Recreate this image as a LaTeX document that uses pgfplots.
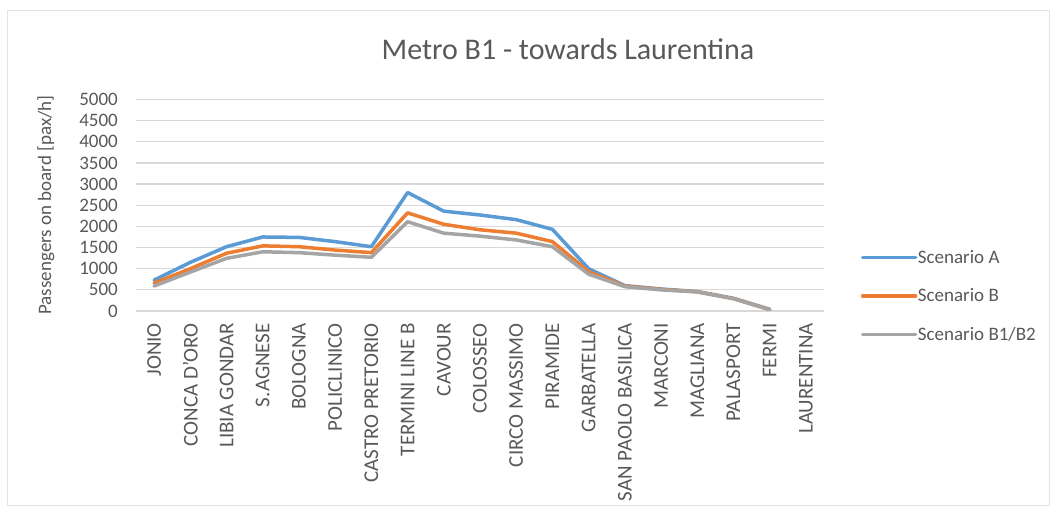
\documentclass[border=0pt]{standalone}
\usepackage{pgfplots}
\pgfplotsset{compat=1.18}
\usepackage{fontspec}
\setmainfont{Carlito}

\definecolor{txtgray}{HTML}{595959}
\definecolor{gridgray}{HTML}{D9D9D9}
\definecolor{serA}{HTML}{5B9BD5}
\definecolor{serB}{HTML}{ED7D31}
\definecolor{serC}{HTML}{A5A5A5}

\begin{document}
\begin{tikzpicture}[x=1pt,y=1pt]
\useasboundingbox (0,0) rectangle (1056,516);
\fill[white] (0,0) rectangle (1056,516);
\draw[gray!22,line width=1pt] (7,10) rectangle (1049,505);

\node[text=txtgray,font=\fontsize{30}{30}\selectfont] at (568,467) {Metro B1 - towards Laurentina};
\node[text=txtgray,rotate=90,font=\fontsize{19}{19}\selectfont] at (46,311) {Passengers on board [pax/h]};

\begin{axis}[
  at={(136pt,205pt)}, anchor=south west,
  scale only axis, width=688pt, height=211.5pt,
  xmin=-0.5, xmax=18.5, ymin=0, ymax=5000,
  xtick={0,...,18},
  xticklabels={JONIO,CONCA D'ORO,LIBIA GONDAR,S.AGNESE,BOLOGNA,POLICLINICO,CASTRO PRETORIO,TERMINI LINE B,CAVOUR,COLOSSEO,CIRCO MASSIMO,PIRAMIDE,GARBATELLA,SAN PAOLO BASILICA,MARCONI,MAGLIANA,PALASPORT,FERMI,LAURENTINA},
  ytick={0,500,...,5000},
  /pgf/number format/assume math mode=true,
  /pgf/number format/1000 sep={},
  tick style={draw=none},
  axis line style={draw=none},
  ymajorgrids, major grid style={gridgray,line width=1.3pt},
  ticklabel style={text=txtgray,font=\fontsize{19}{19}\selectfont},
  xticklabel style={rotate=90,anchor=east,inner sep=0pt,xshift=-12pt,font=\fontsize{21}{21}\selectfont},
  yticklabel style={anchor=east,inner sep=0pt,xshift=-18pt},
  legend style={draw=none,fill=none,at={(axis description cs:1.049,0.30)},anchor=north west,
    font=\fontsize{19}{19}\selectfont,text=txtgray,row sep=23pt,
    nodes={inner sep=0.5pt}},
  legend cell align=left,
  legend image code/.code={\draw[#1] (0pt,0pt) -- (53pt,0pt);},
  every axis plot/.append style={line width=3.5pt,line join=round,line cap=round},
]
\addplot[serA] coordinates {
 (0,730) (1,1150) (2,1520) (3,1750) (4,1740) (5,1640) (6,1520) (7,2800) (8,2360)
 (9,2270) (10,2160) (11,1930) (12,1000) (13,600) (14,520) (15,460) (16,300) (17,40)};
\addlegendentry{Scenario A}
\addplot[serB] coordinates {
 (0,660) (1,1000) (2,1365) (3,1540) (4,1520) (5,1440) (6,1380) (7,2320) (8,2050)
 (9,1920) (10,1840) (11,1640) (12,930) (13,590) (14,510) (15,455) (16,295) (17,35)};
\addlegendentry{Scenario B}
\addplot[serC] coordinates {
 (0,590) (1,920) (2,1245) (3,1400) (4,1380) (5,1320) (6,1270) (7,2110) (8,1840)
 (9,1770) (10,1680) (11,1520) (12,870) (13,575) (14,500) (15,450) (16,290) (17,30)};
\addlegendentry{Scenario B1/B2}
\end{axis}
\end{tikzpicture}
\end{document}
